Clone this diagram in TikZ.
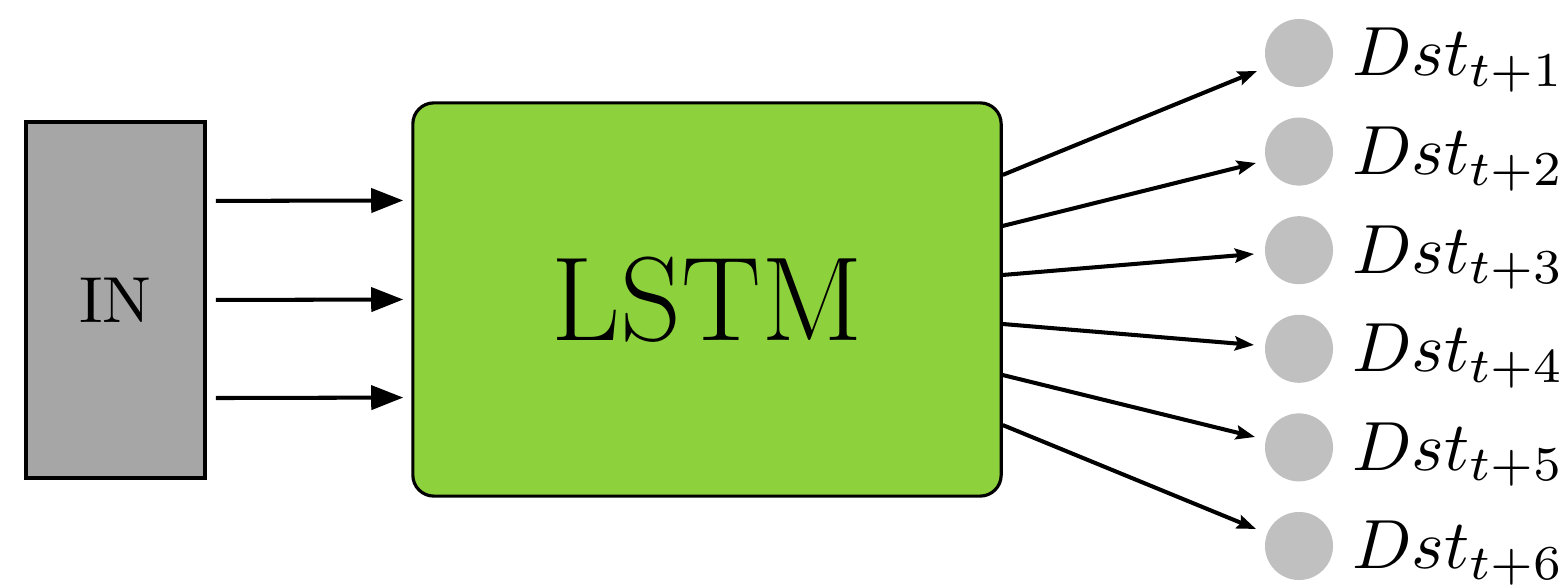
\documentclass[tikz,border=0pt]{standalone}
\usetikzlibrary{arrows.meta}
\definecolor{lstmgreen}{RGB}{141,210,60}
\definecolor{ingray}{RGB}{166,166,166}
\definecolor{dotgray}{RGB}{192,192,192}
\tikzset{
  inbox/.style={draw=black, line width=1pt, fill=ingray, minimum width=1.79cm, minimum height=3.56cm, inner sep=0pt},
  lstmbox/.style={draw=black, line width=0.9pt, fill=lstmgreen, rounded corners=0.21cm, minimum width=5.88cm, minimum height=3.93cm, inner sep=0pt, font=\fontsize{34}{38}\selectfont},
  dot/.style={circle, fill=dotgray, minimum size=0.68cm, inner sep=0pt},
  lbl/.style={anchor=base west, inner sep=0pt, font=\normalsize, scale=1.98},
  intext/.style={inner sep=0pt, font=\normalsize, scale=1.85},
  inarr/.style={line width=1.15pt, -{Triangle[length=0.32cm,width=0.24cm]}},
  outarr/.style={line width=1.15pt, -{Stealth[length=0.19cm,width=0.14cm,inset=0.03cm]}}
}
\begin{document}
\begin{tikzpicture}[x=0.01cm,y=-0.01cm]
\useasboundingbox (0,0) rectangle (1560,586);
\node[inbox] (in) at (115.5,300) {};
\node[intext] (intxt) at (in.center) {IN};
\node[lstmbox] (lstm) at (707,299.5) {LSTM};
% input arrows
\foreach \dy in {0.99,0,-0.98}{
  \draw[inarr, shorten <=0.09cm, shorten >=0.08cm] ([yshift=\dy cm]in.east) -- ([yshift=\dy cm]lstm.west);
}
% output circles and labels
\foreach \i/\cy in {1/53,2/151.6,3/250.2,4/348.8,5/447.4,6/546}{
  \node[dot] (c\i) at (1299,\cy) {};
  \node[lbl] (l\i) at (1351,\cy+23) {$Dst_{t+\i}$};
}
% arrow tips
\coordinate (t1) at (1257,71);
\coordinate (t2) at (1256,163);
\coordinate (t3) at (1254,254);
\coordinate (t4) at (1254,345);
\coordinate (t5) at (1255,437);
\coordinate (t6) at (1256,529);
\foreach \i/\dy in {1/1.245,2/0.735,3/0.245,4/-0.245,5/-0.755,6/-1.255}{
  \draw[outarr] ([yshift=\dy cm]lstm.east) -- (t\i);
}
\end{tikzpicture}
\end{document}
